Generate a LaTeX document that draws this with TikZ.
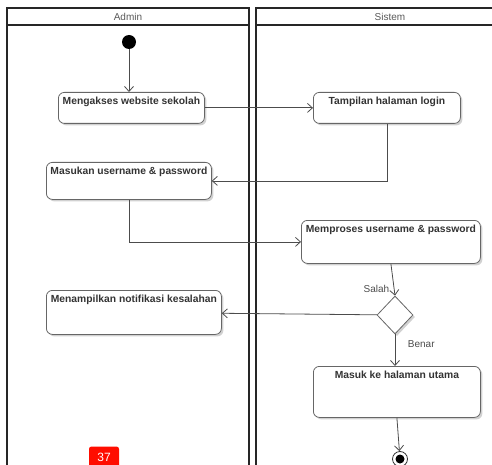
\documentclass[tikz,border=0pt]{standalone}
\usepackage{fontspec}
\setmainfont{Liberation Sans}
\usetikzlibrary{arrows.meta,shapes.geometric,shadows}

\begin{document}
\begin{tikzpicture}[x=1pt, y=-1pt,
  font=\fontsize{10}{12}\selectfont,
  lane/.style ={draw=black!85, line width=1.4pt},
  head/.style ={font=\fontsize{10}{11}\selectfont, text=black!65},
  shd/.style  ={drop shadow={shadow xshift=2pt, shadow yshift=-2pt,
                 fill=black, opacity=0.18}},
  act/.style  ={draw=black!60, rounded corners=6pt, fill=white,
                line width=0.8pt, anchor=north west, inner sep=3pt,
                text height=9.5pt, text=black!80,
                font=\fontsize{10.3}{12}\selectfont\bfseries, shd},
  dec/.style  ={diamond, aspect=1, draw=black!60, fill=white,
                line width=0.8pt, inner sep=0pt,
                minimum width=36, minimum height=38, shd},
  ini/.style  ={circle, fill=black, inner sep=0pt, minimum size=14},
  fin/.style  ={circle, draw=black!80, fill=white, line width=0.8pt,
                inner sep=0pt, minimum size=15},
  fl/.style   ={-{Straight Barb[length=5pt,width=9pt]}, draw=black!70,
                line width=0.8pt},
  lab/.style  ={font=\fontsize{10}{11}\selectfont, text=black!70,
                inner sep=1.5pt},
  badge/.style={fill=red!90!orange, rounded corners=2.5pt, text=white,
                font=\fontsize{12}{13}\selectfont, minimum width=30,
                minimum height=22, inner sep=0pt}]

\useasboundingbox (0,0) rectangle (492,465);
\clip (0,0) rectangle (492,465);

% swimlanes
\draw[lane] (7,8) rectangle (249,480);
\draw[lane] (7,25) -- (249,25);
\draw[lane] (256,8) rectangle (498,480);
\draw[lane] (256,25) -- (498,25);
\node[head] (admin)  at (128,16.5) {Admin};
\node[head] (sistem) at (390,16.5) {Sistem};

% activities
\node[ini] (start) at (129,42) {};
\node[act, minimum width=146, text depth=15.5pt] (web) at (58,92)
  {Mengakses website sekolah};
\node[act, minimum width=147, text depth=15.5pt] (login) at (313,92)
  {Tampilan halaman login};
\node[act, minimum width=165, text depth=21.5pt] (user) at (46,162)
  {Masukan username \& password};
\node[act, minimum width=179, text depth=27.5pt] (proc) at (301,220)
  {Memproses username \& password};
\node[dec] (cek) at (395,315) {};
\node[act, minimum width=175, text depth=28.5pt] (notif) at (46,290)
  {Menampilkan notifikasi kesalahan};
\node[act, minimum width=167, text depth=35.5pt] (home) at (313,366)
  {Masuk ke halaman utama};
\node[fin] (end) at (400,459) {};
\fill (end) circle (4.5pt);

\node[badge] (page) at (104,457.5) {37};

% flows
\draw[fl] (start) -- (start |- web.north);
\draw[fl] (web) -- (login);
\draw[fl] (login.south) |- (user.east);
\draw[fl] (user.south) |- (proc.west);
\draw[fl] (proc.south) -- node[lab, pos=0.78, left=3pt] {Salah} (cek.north);
\draw[fl] (cek.south) -- node[lab, pos=0.3, right=11pt] {Benar} (cek.south |- home.north);
\draw[fl] (cek) -- (notif);
\draw[fl] (home.south) -- (end);
\end{tikzpicture}
\end{document}
